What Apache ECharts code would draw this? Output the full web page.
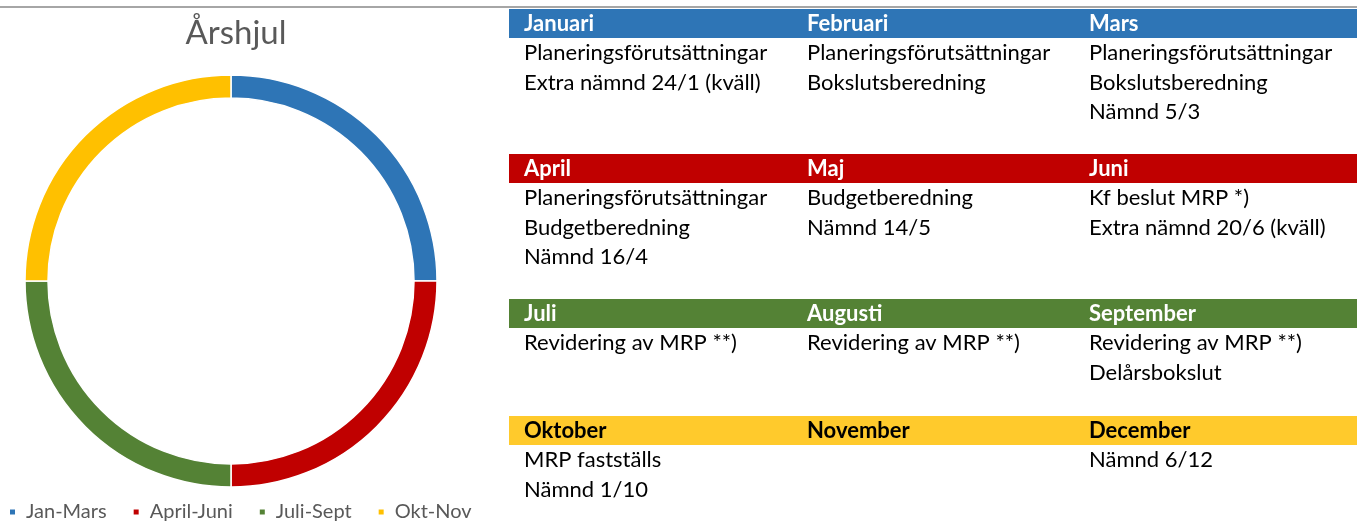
<!DOCTYPE html>
<html>
<head>
<meta charset="utf-8">
<script src="https://cdn.jsdelivr.net/npm/echarts@6/dist/echarts.min.js"></script>
<style>
  html, body { margin: 0; padding: 0; background: #fff; }
  #main { width: 1361px; height: 521px; }
</style>
</head>
<body>
<div id="main"></div>
<script>
// kvartal i årshjulet
var quarters = ['Jan-Mars', 'April-Juni', 'Juli-Sept', 'Okt-Nov']
var quarterValues = [3, 3, 3, 3]
// månader och aktiviteter
var months = ['Januari', 'Februari', 'Mars', 'April', 'Maj', 'Juni', 'Juli', 'Augusti', 'September', 'Oktober', 'November', 'December']
var notes = [
    ['Planeringsförutsättningar', 'Extra nämnd 24/1 (kväll)'],
    ['Planeringsförutsättningar', 'Bokslutsberedning'],
    ['Planeringsförutsättningar', 'Bokslutsberedning', 'Nämnd 5/3'],
    ['Planeringsförutsättningar', 'Budgetberedning', 'Nämnd 16/4'],
    ['Budgetberedning', 'Nämnd 14/5'],
    ['Kf beslut MRP *)', 'Extra nämnd 20/6 (kväll)'],
    ['Revidering av MRP **)'],
    ['Revidering av MRP **)'],
    ['Revidering av MRP **)', 'Delårsbokslut'],
    ['MRP fastställs', 'Nämnd 1/10'],
    [],
    ['Nämnd 6/12']
]

var pieColors = ['#2E75B6', '#C00000', '#548235', '#FFC000']
var barColors = ['#2E75B6', '#C00000', '#548235', '#FFCA2C']
var headColors = ['#fff', '#fff', '#fff', '#000']
var rowTops = [9, 154, 299, 416]
var colX = [524, 807, 1089]
var bodyFont = '22px Lato'
var headFont = 'bold 22px Lato'

var myChart = echarts.init(document.getElementById('main'));

var graphics = [{
    type: 'line',
    shape: { x1: 0, y1: 7, x2: 1357, y2: 7 },
    style: { stroke: '#A6A6A6', lineWidth: 2 }
}]
function eachItem(arr, fn) { for (var i = 0; i < arr.length; i++) fn(i, arr[i]) }
eachItem(rowTops, function (r, top) {
    graphics.push({
        type: 'rect',
        shape: { x: 509, y: top, width: 848, height: 29 },
        style: { fill: barColors[r] }
    })
    for (var c = 0; c < 3; c++) {
        var m = r * 3 + c
        graphics.push({
            type: 'text',
            x: colX[c], y: top + 15,
            style: { text: months[m], font: headFont, fill: headColors[r], verticalAlign: 'middle' }
        })
        eachItem(notes[m], function (k, line) {
            graphics.push({
                type: 'text',
                x: colX[c], y: top + 44 + k * 29.5,
                style: { text: line, font: bodyFont, fill: '#000', verticalAlign: 'middle' }
            })
        })
    }
})

var chatArr = quarters.map(function (name, i) {
    return { name: name, value: quarterValues[i] }
})

var option = {
    animation: false,
    color: pieColors,
    title: {
        text: 'Årshjul',
        left: 231,
        textAlign: 'center',
        top: 12,
        textStyle: { fontFamily: 'Lato', fontSize: 33, fontWeight: 'normal', color: '#595959' }
    },
    legend: {
        left: 3,
        top: 497,
        icon: 'rect',
        itemWidth: 7,
        itemHeight: 7,
        itemGap: 25,
        data: quarters,
        textStyle: { fontFamily: 'Lato', fontSize: 20, color: '#595959', padding: [0, 0, 0, 5] }
    },
    series: [{
        type: 'pie',
        center: [231, 281],
        radius: [183, 206],
        startAngle: 90,
        clockwise: true,
        label: { show: false },
        labelLine: { show: false },
        itemStyle: { borderColor: '#fff', borderWidth: 1.5 },
        emphasis: { disabled: true },
        data: chatArr
    }],
    graphic: graphics
};
myChart.setOption(option);
</script>
</body>
</html>
